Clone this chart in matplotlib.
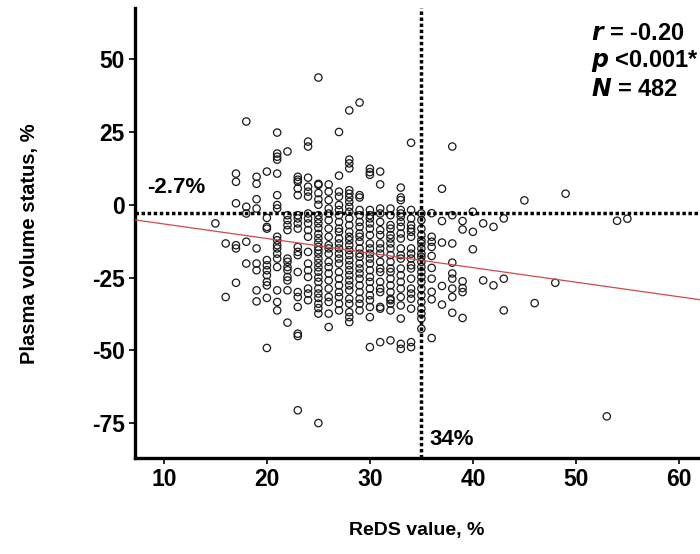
import matplotlib
matplotlib.use("Agg")
import matplotlib.pyplot as plt

plt.rcParams['font.family'] = ['Liberation Sans', 'DejaVu Sans']
plt.rcParams['font.weight'] = 'bold'
plt.rcParams['axes.unicode_minus'] = False

# ReDS value (%) -> plasma volume status values (%), by column
pvs_by_reds = {
    15: [-6.4],
    16: [-13.3, -31.7],
    17: [10.7, 7.9, 0.5, -13.9, -15.0, -26.8],
    18: [28.6, -0.7, -3.0, -12.7, -20.2],
    19: [9.6, 7.2, 1.9, -1.3, -15.0, -20.2, -22.5, -29.4, -33.2],
    20: [11.4, -4.5, -7.6, -8.2, -19.0, -20.8, -22.5, -24.2, -26.5, -27.7, -32.0, -49.2],
    21: [24.8, 17.6, 16.5, 15.5, 10.7, 3.3, -0.1, -1.3, -11.0, -12.2, -13.9, -15.0,
         -16.8, -18.5, -21.4, -29.4, -33.4, -36.3],
    22: [18.3, -3.6, -5.3, -7.0, -8.7, -18.5, -19.6, -21.4, -22.5, -24.8, -26.0, -29.4, -40.5],
    23: [9.6, 8.6, 7.9, 5.6, 3.3, -3.6, -4.7, -6.4, -8.2, -14.5, -16.2, -17.3, -23.1,
         -30.0, -31.7, -35.1, -44.3, -45.1, -70.6],
    24: [21.7, 20.0, 9.3, 6.2, 4.5, 2.8, -3.0, -4.7, -6.4, -8.7, -11.0, -16.2, -20.2,
         -22.5, -24.8, -28.8, -30.5, -32.8],
    25: [43.7, 7.2, 6.8, 4.0, 1.8, 0.0, -3.6, -5.0, -6.4, -8.0, -10.0, -11.5, -13.0,
         -14.5, -15.6, -16.8, -18.5, -20.0, -21.5, -23.0, -25.0, -26.5, -28.8, -30.5,
         -32.0, -34.0, -35.5, -37.4, -75.0],
    26: [7.0, 4.5, 1.6, -1.3, -3.0, -5.3, -8.2, -11.0, -13.9, -15.0, -16.8, -19.6, -21.4,
         -23.6, -26.0, -28.8, -31.7, -33.4, -37.4, -42.0],
    27: [25.0, 10.0, 4.5, 2.8, -0.1, -1.8, -3.6, -5.9, -8.2, -9.3, -11.6, -13.3, -15.0,
         -16.8, -18.5, -20.2, -23.1, -25.4, -27.7, -30.0, -31.7, -34.0, -36.3],
    28: [32.4, 15.5, 14.2, 12.5, 5.0, 3.8, 2.5, 1.0, -0.7, -2.4, -4.7, -7.0, -9.3, -11.0,
         -12.2, -13.9, -15.6, -17.3, -19.1, -20.8, -22.5, -24.2, -26.0, -27.7, -29.4,
         -32.3, -34.0, -36.9, -38.6, -40.3],
    29: [35.1, 3.3, 2.5, -1.8, -3.6, -5.9, -7.6, -9.9, -11.0, -12.7, -15.0, -16.8, -17.9,
         -20.2, -21.9, -23.6, -25.4, -27.7, -30.0, -32.3, -34.0, -36.3],
    30: [12.4, 11.2, 10.3, -1.8, -3.6, -4.7, -6.4, -8.2, -10.4, -13.3, -15.0, -16.8, -18.5,
         -20.2, -22.5, -24.8, -26.5, -28.8, -31.1, -32.8, -35.1, -38.6, -48.9],
    31: [11.4, 7.0, -1.3, -3.0, -5.9, -8.7, -10.4, -13.3, -15.0, -16.8, -19.6, -21.9,
         -23.1, -26.5, -28.8, -30.0, -35.1, -35.7, -47.2],
    32: [-1.3, -3.6, -7.0, -8.2, -10.4, -11.6, -13.3, -15.0, -17.3, -19.6, -21.9, -23.1,
         -25.4, -27.7, -30.0, -32.3, -32.8, -34.0, -36.3, -46.6],
    33: [5.9, 2.5, 1.6, -1.8, -3.0, -4.1, -5.9, -7.6, -9.9, -11.6, -15.0, -17.3, -18.5,
         -21.9, -24.2, -26.5, -28.8, -31.7, -34.6, -39.1, -47.8, -49.5],
    34: [21.3, -1.8, -4.7, -7.0, -8.2, -9.3, -11.0, -15.0, -16.8, -18.5, -20.8, -21.9,
         -25.4, -28.8, -30.5, -32.3, -35.7, -47.2, -48.9],
    35: [-3.0, -5.3, -8.2, -10.4, -12.2, -13.3, -15.0, -16.8, -17.9, -19.6, -21.4, -23.1,
         -24.8, -26.5, -28.8, -31.1, -33.4, -35.7, -37.4, -39.1, -42.6],
    36: [-2.9, -11.0, -12.7, -14.5, -17.6, -21.7, -25.4, -29.9, -32.5, -45.8],
    37: [5.5, -5.6, -13.0, -27.9, -34.3],
    38: [20.0, -3.6, -13.3, -19.9, -23.6, -25.4, -28.8, -31.7, -37.1],
    39: [-5.6, -8.5, -26.3, -28.6, -30.0, -38.9],
    40: [-2.4, -9.3, -15.3],
    41: [-6.4, -26.0],
    42: [-7.6, -27.7],
    43: [-4.7, -25.4, -36.3],
    45: [1.5],
    46: [-33.8],
    48: [-26.8],
    49: [3.8],
    53: [-72.7],
    54: [-5.5],
    55: [-4.8],
}

fit_intercept = -1.6
fit_slope = -0.50
pvs_cutoff = -2.7
reds_cutoff = 35
stats_lines = [r'$\boldsymbol{r}$ = -0.20', r'$\boldsymbol{p}$ <0.001*', r'$\boldsymbol{N}$ = 482']
x_ticks = [10, 20, 30, 40, 50, 60]
y_ticks = [50, 25, 0, -25, -50, -75]

reds = [x for x, ys in pvs_by_reds.items() for _ in ys]
pvs = [y for ys in pvs_by_reds.values() for y in ys]

fig = plt.figure(figsize=(7, 5.54), dpi=100)
ax = fig.add_axes([0.1929, 0.1733, 0.8071, 0.8123])

ax.scatter(reds, pvs, s=28, facecolors='none', edgecolors='#1a1a1a', linewidths=0.9, zorder=2)
ax.axline((0, fit_intercept), slope=fit_slope, color='#d04848', lw=0.9, zorder=3)
ax.axhline(pvs_cutoff, color='black', lw=2.5, ls=(0, (1, 0.75)), zorder=4)
ax.axvline(reds_cutoff, color='black', lw=2.5, ls=(0, (1, 0.75)), zorder=4)

ax.set_xlim(7.2, 62.05)
ax.set_ylim(-87, 67.6)
ax.set_xticks(x_ticks)
ax.set_yticks(y_ticks)
ax.tick_params(labelsize=16.5, length=4.5, width=1.2, pad=3)
for lab in ax.get_xticklabels() + ax.get_yticklabels():
    lab.set_fontweight('bold')
for side in ['top', 'right']:
    ax.spines[side].set_visible(False)
for side in ['left', 'bottom']:
    ax.spines[side].set_linewidth(2.4)

ax.text(8.4, 6.0, '-2.7%', fontsize=16, fontweight='bold', va='center', ha='left')
ax.text(reds_cutoff + 0.8, -80.5, '34%', fontsize=16, fontweight='bold', va='center', ha='left')
for i, s in enumerate(stats_lines):
    fig.text(591 / 700, 1 - (33 + i * 28) / 554, s, fontsize=17, fontweight='bold',
             va='center', ha='left')

fig.text(30 / 700, 1 - 244 / 554, 'Plasma volume status, %', rotation=90, fontsize=14.5,
         fontweight='bold', va='center', ha='center')
fig.text(417 / 700, 1 - 530 / 554, 'ReDS value, %', fontsize=14, fontweight='bold',
         va='center', ha='center')

fig.savefig('out.png', dpi=100)
